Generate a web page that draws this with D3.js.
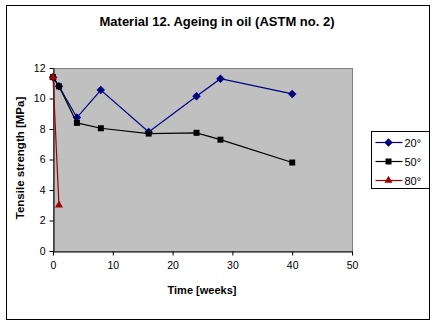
<!DOCTYPE html>
<html>
<head>
<meta charset="utf-8">
<script src="https://cdn.jsdelivr.net/npm/d3@7"></script>
<style>
  body { margin: 0; background: #fff; }
  text { font-family: "Liberation Sans", Arial, sans-serif; }
</style>
</head>
<body>
<div id="chart"></div>
<script>
// weeks of ageing and tensile strength per temperature
const weeks = [0, 1, 4, 8, 16, 24, 28, 40];
const t20 = [11.4, 10.8, 8.75, 10.55, 7.8, 10.15, 11.3, 10.3];
const t50 = [11.4, 10.8, 8.4, 8.05, 7.7, 7.75, 7.3, 5.8];
const weeks80 = [0, 1];
const t80 = [11.4, 3.0];
const seriesNames = ["20°", "50°", "80°"];
const xTicks = [0, 10, 20, 30, 40, 50];
const yTicks = [0, 2, 4, 6, 8, 10, 12];

const W = 435, H = 325;
const margin = { top: 68, right: 83, bottom: 74, left: 53 };
const width = W - margin.left - margin.right,
      height = H - margin.top - margin.bottom;

// losange carré (le symbolDiamond de d3 est trop étiré)
const squareDiamond = {
    draw(ctx, size) {
        const r = Math.sqrt(size / 2);
        ctx.moveTo(0, -r);
        ctx.lineTo(r, 0);
        ctx.lineTo(0, r);
        ctx.lineTo(-r, 0);
        ctx.closePath();
    }
};

const svg = d3.select("#chart").append("svg")
    .attr("width", W)
    .attr("height", H);

// cadre extérieur
svg.append("rect")
    .attr("x", 6.5).attr("y", 5.5)
    .attr("width", 423).attr("height", 314)
    .attr("fill", "#fff").attr("stroke", "#000");

svg.append("text")
    .attr("x", 217).attr("y", 26)
    .attr("text-anchor", "middle")
    .style("font-size", "13px").style("font-weight", "bold")
    .text("Material 12. Ageing in oil (ASTM no. 2)");

const g = svg.append("g")
    .attr("transform", "translate(" + margin.left + "," + margin.top + ")");

const x = d3.scaleLinear().domain([0, 50]).range([0, width]);
const y = d3.scaleLinear().domain([0, 12]).range([height, 0]);

// zone grise
g.append("rect")
    .attr("x", 0.5).attr("y", 0.5)
    .attr("width", width).attr("height", height)
    .attr("fill", "#c0c0c0").attr("stroke", "#808080");

const xAxis = g.append("g")
    .attr("transform", "translate(0," + (height + 0.5) + ")")
    .call(d3.axisBottom(x).tickValues(xTicks).tickSize(4).tickSizeOuter(0).tickPadding(6));
const yAxis = g.append("g")
    .attr("transform", "translate(0.5,0)")
    .call(d3.axisLeft(y).tickValues(yTicks).tickSize(4).tickSizeOuter(0).tickPadding(4));

[xAxis, yAxis].forEach(a => {
    a.select(".domain").attr("stroke", "#000");
    a.selectAll("text").style("font-size", "10.5px").style("font-family", "Liberation Sans, Arial, sans-serif").attr("fill", "#000");
});

svg.append("text")
    .attr("x", 202).attr("y", 294)
    .attr("text-anchor", "middle")
    .style("font-size", "11px").style("font-weight", "bold")
    .text("Time [weeks]");

svg.append("text")
    .attr("transform", "translate(24,158) rotate(-90)")
    .attr("text-anchor", "middle")
    .style("font-size", "11.5px").style("font-weight", "bold")
    .text("Tensile strength [MPa]");

const series = [
    { name: seriesNames[0], xs: weeks, ys: t20, color: "#000080", symbol: squareDiamond, size: 36 },
    { name: seriesNames[1], xs: weeks, ys: t50, color: "#000000", symbol: d3.symbolSquare, size: 36 },
    { name: seriesNames[2], xs: weeks80, ys: t80, color: "#a00000", symbol: d3.symbolTriangle, size: 28 }
];

const line = d3.line()
    .x(d => x(d[0]))
    .y(d => y(d[1]));

series.forEach(s => {
    const pts = s.xs.map((w, i) => [w, s.ys[i]]);
    g.append("path")
        .datum(pts)
        .attr("d", line)
        .attr("fill", "none")
        .attr("stroke", s.color)
        .attr("stroke-width", 1.2);
    g.selectAll(null)
        .data(pts)
        .enter().append("path")
        .attr("transform", d => "translate(" + x(d[0]) + "," + y(d[1]) + ")")
        .attr("d", d3.symbol().type(s.symbol).size(s.size))
        .attr("fill", s.color);
});

// légende
const legend = svg.append("g").attr("transform", "translate(371.5,131.5)");
legend.append("rect")
    .attr("width", 58).attr("height", 57)
    .attr("fill", "#fff").attr("stroke", "#000");

series.forEach((s, i) => {
    const ly = 11 + i * 19;
    legend.append("line")
        .attr("x1", 4).attr("x2", 31)
        .attr("y1", ly).attr("y2", ly)
        .attr("stroke", s.color).attr("stroke-width", 1.2);
    legend.append("path")
        .attr("transform", "translate(17," + ly + ")")
        .attr("d", d3.symbol().type(s.symbol).size(s.size))
        .attr("fill", s.color);
    legend.append("text")
        .attr("x", 33).attr("y", ly + 4)
        .style("font-size", "11px")
        .text(s.name);
});
</script>
</body>
</html>
